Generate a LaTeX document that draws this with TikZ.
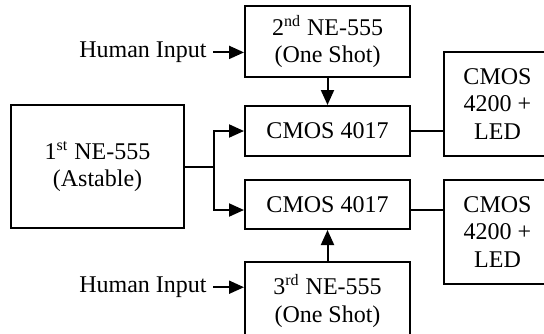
\documentclass[tikz,border=0pt]{standalone}
\usepackage{fontspec}
\setmainfont{Liberation Serif}
\usetikzlibrary{arrows.meta,calc}
\begin{document}
\begin{tikzpicture}[x=1pt,y=1pt,
  box/.style={draw,line width=1pt,align=center,inner sep=0pt,
    font=\fontsize{12}{13.8}\selectfont},
  lbl/.style={inner sep=3pt,font=\fontsize{12}{13.8}\selectfont},
  wire/.style={line width=1pt},
  arr/.style={line width=1pt,-{Triangle[length=7.5pt,width=6.5pt]}}]
\useasboundingbox (0,0) rectangle (272,-166.5);
\begin{scope}
\clip (0,0) rectangle (272,-166.5);
\node[box,minimum width=86.5pt,minimum height=61.5pt] (one) at (48.75,-83.25)
  {1\textsuperscript{st} NE-555\\(Astable)};
\node[box,minimum width=82.5pt,minimum height=35.5pt] (two) at (163.75,-20.75)
  {2\textsuperscript{nd} NE-555\\(One Shot)};
\node[box,minimum width=82.5pt,minimum height=25pt] (cA) at (163.75,-65.5)
  {CMOS 4017};
\node[box,minimum width=82.5pt,minimum height=24.5pt] (cB) at (163.75,-102.25)
  {CMOS 4017};
\node[box,minimum width=53.5pt,minimum height=52pt] (dA) at (248.75,-52)
  {CMOS\\4200 +\\LED};
\node[box,minimum width=53.5pt,minimum height=52pt] (dB) at (248.75,-116)
  {CMOS\\4200 +\\LED};
\node[box,minimum width=82.5pt,minimum height=39pt] (three) at (163.75,-150.5)
  {3\textsuperscript{rd} NE-555\\(One Shot)};
\node[lbl,anchor=east] (h1) at (106.5,-26.2) {Human Input};
\node[lbl,anchor=east] (h2) at (106.5,-143.6) {Human Input};
\coordinate (j) at (107,-83.25);
\draw[arr] (h1.east) -- (h1.east -| two.west);
\draw[arr] (h2.east) -- (h2.east -| three.west);
\draw[wire] (one.east) -- (j);
\draw[arr] (j) |- (cA.west);
\draw[arr] (j) |- (cB.west |- 0,-105);
\draw[arr] (two.south) -- (cA.north);
\draw[arr] (three.north) -- (cB.south);
\draw[wire] (cA.east) -- (cA.east -| dA.west);
\draw[wire] (cB.east |- 0,-105) -- (dB.west |- 0,-105);
\end{scope}
\end{tikzpicture}
\end{document}
